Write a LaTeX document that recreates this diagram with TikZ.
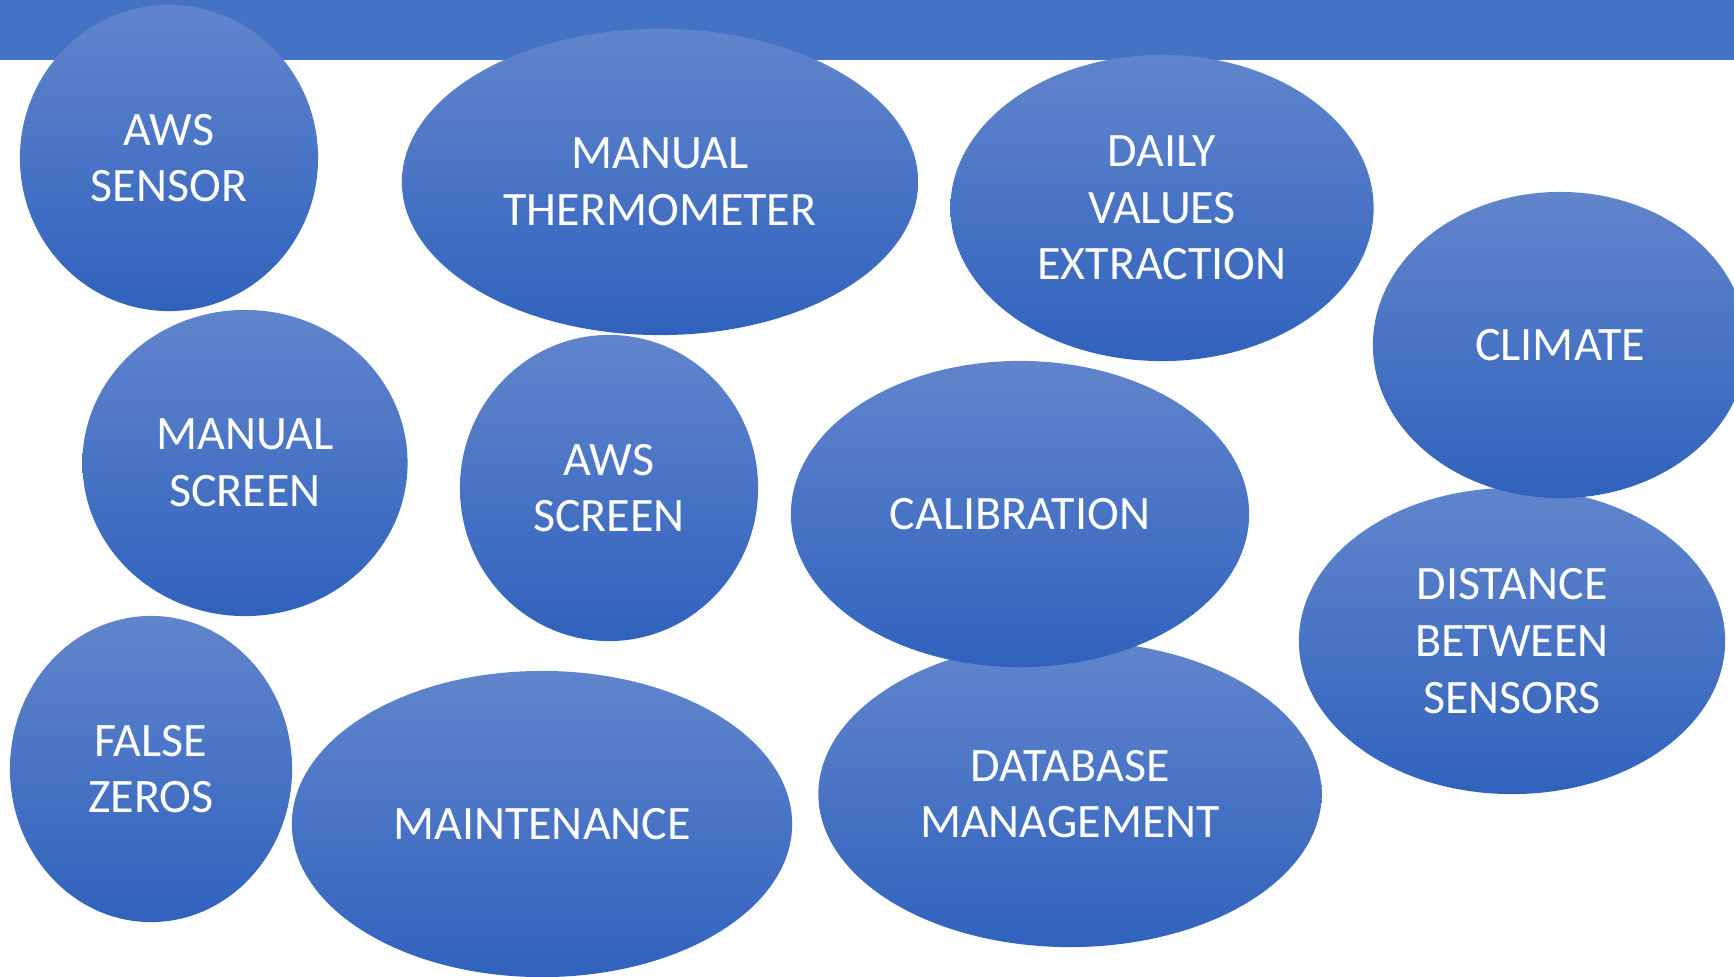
\documentclass[tikz,border=0pt]{standalone}
\usepackage{fontspec}
\setmainfont{Carlito}
\usetikzlibrary{shapes.geometric}
\definecolor{bannerblue}{RGB}{68,114,196}
\definecolor{blobtop}{RGB}{97,133,204}
\definecolor{blobbot}{RGB}{48,98,189}

\begin{document}
\begin{tikzpicture}[x=0.01cm,y=-0.01cm,
 blob/.style={ellipse,inner sep=0pt,minimum height=3.06cm,top color=blobtop,bottom color=blobbot,draw=none,text=white,align=center,font=\fontsize{13.65}{16.1}\selectfont}]
\clip (0,0) rectangle (1734,976);
\fill[bannerblue] (0,0) rectangle (1734,60);
\foreach \n/\x/\y/\w/\t in {awssensor/169/158/2.98/AWS\\SENSOR,
 manthermo/660/182/5.16/MANUAL\\THERMOMETER,
 daily/1162/208/4.23/DAILY\\VALUES\\EXTRACTION,
 distance/1512/641/4.26/DISTANCE\\BETWEEN\\SENSORS,
 climate/1560/345/3.74/CLIMATE,
 manscreen/245/463/3.25/MANUAL\\SCREEN,
 awsscreen/609/488/2.98/AWS\\SCREEN,
 database/1070/794/5.03/DATABASE\\MANAGEMENT,
 calib/1020/514/4.58/CALIBRATION,
 falsezeros/151/769/2.82/FALSE\\ZEROS,
 maint/542/824/5.00/MAINTENANCE}{
 \node[blob,minimum width=\w cm] (\n) at (\x,\y) {\t};
}
\end{tikzpicture}
\end{document}
